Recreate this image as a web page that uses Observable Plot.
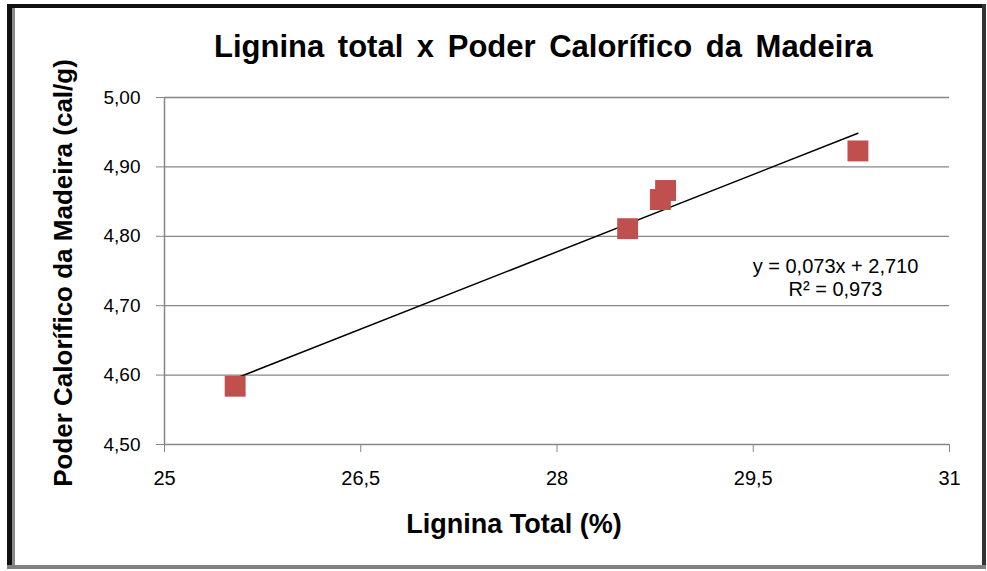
<!DOCTYPE html>
<html>
<head>
<meta charset="utf-8">
<script src="https://cdn.jsdelivr.net/npm/d3@7"></script>
<script src="https://cdn.jsdelivr.net/npm/@observablehq/plot@0.6"></script>
<style>
  html, body { margin: 0; padding: 0; background: #fff; }
  #wrap { position: relative; width: 987px; height: 571px; overflow: hidden; background: #fff;
          font-family: "Liberation Sans", Arial, sans-serif; }
  #title { box-sizing: border-box; height: 75px; padding-top: 29px; padding-left: 214px;
           font-size: 31px; font-weight: bold; line-height: 36px; color: #000; word-spacing: 5px; white-space: nowrap; }
  .b { position: absolute; }
</style>
</head>
<body>
<div id="wrap">
  <div id="title">Lignina total x Poder Calorífico da Madeira</div>
  <div id="chart"></div>
  <div class="b" style="left:7px; top:4px; width:978px; height:4px; background:#111;"></div>
  <div class="b" style="left:7px; top:4px; width:5px; height:565px; background:#111;"></div>
  <div class="b" style="left:12px; top:8px; width:3px; height:561px; background:#8a8a8a;"></div>
  <div class="b" style="left:982px; top:4px; width:4px; height:565px; background:#333;"></div>
  <div class="b" style="left:7px; top:565px; width:979px; height:4px; background:#808080;"></div>
</div>
<script>
// Data
const ligninaTotal = [25.54, 28.54, 28.79, 28.83, 30.30];
const poderCalorifico = [4.584, 4.811, 4.853, 4.866, 4.923];
const xTicks = [25, 26.5, 28, 29.5, 31];
const yTicks = [4.5, 4.6, 4.7, 4.8, 4.9, 5.0];
const equationLines = ["y = 0,073x + 2,710", "R² = 0,973"];
const xTitle = "Lignina Total (%)";
const yTitle = "Poder Calorífico da Madeira (cal/g)";

const data = ligninaTotal.map((x, i) => ({x, y: poderCalorifico[i]}));
const FONT = '"Liberation Sans", Arial, sans-serif';
const GRID = "#868686";
const fmtY = d => d.toFixed(2).replace(".", ",");
const fmtX = d => String(d).replace(".", ",");

const chart = Plot.plot({
  width: 987,
  height: 496,
  marginTop: 22,
  marginBottom: 127,
  marginLeft: 164,
  marginRight: 38,
  style: {fontFamily: FONT, fontSize: "20px", color: "#000", background: "transparent", overflow: "visible"},
  x: {domain: [25, 31], ticks: xTicks, label: null},
  y: {domain: [4.5, 5.0], ticks: yTicks, label: null},
  marks: [
    Plot.ruleY(yTicks.slice(1), {stroke: GRID, strokeWidth: 1.3}),
    Plot.axisY({ticks: yTicks, tickSize: 8, tickPadding: 16, tickFormat: fmtY, stroke: GRID, fill: "#000", label: null, fontSize: 19}),
    Plot.axisX({ticks: xTicks, tickSize: 8, tickPadding: 18, tickFormat: fmtX, stroke: GRID, fill: "#000", label: null, fontSize: 20}),
    Plot.ruleY(yTicks.slice(0, 1), {stroke: GRID, strokeWidth: 1.5}),
    Plot.ruleX(xTicks.slice(0, 1), {stroke: GRID, strokeWidth: 1.5}),
    Plot.linearRegressionY(data, {x: "x", y: "y", stroke: "#000", strokeWidth: 1.5, ci: 0}),
    Plot.dot(data, {x: "x", y: "y", symbol: "square", r: 11.8, fill: "#C0504D", stroke: null}),
    Plot.text(equationLines.slice(0, 1), {frameAnchor: "top-right", textAnchor: "middle", lineAnchor: "middle", dx: -114, dy: 169, fontSize: 20, fill: "#000", text: d => d, letterSpacing: 1}),
    Plot.text(equationLines.slice(1), {frameAnchor: "top-right", textAnchor: "middle", lineAnchor: "middle", dx: -114, dy: 192, fontSize: 20, fill: "#000", text: d => d}),
    Plot.text([xTitle], {frameAnchor: "bottom", textAnchor: "middle", lineAnchor: "middle", dx: -43, dy: 80, fontSize: 27, fontWeight: "bold", fill: "#000", text: d => d}),
    Plot.text([yTitle], {frameAnchor: "left", textAnchor: "middle", lineAnchor: "middle", rotate: -90, dx: -101, dy: 2, fontSize: 26, fontWeight: "bold", fill: "#000", text: d => d})
  ]
});
document.getElementById("chart").appendChild(chart);
</script>
</body>
</html>
